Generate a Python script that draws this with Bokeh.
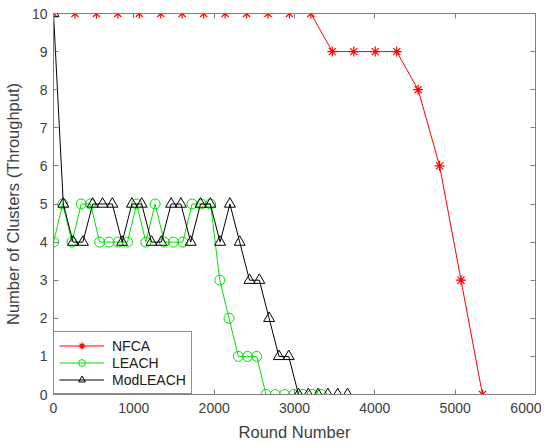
from bokeh.plotting import figure
from bokeh.models import LinearAxis, Range1d, FixedTicker, Legend, LegendItem
from bokeh.embed import file_html
from bokeh.resources import INLINE

nfca_x = [0, 267, 534, 801, 1068, 1335, 1602, 1869, 2136, 2403, 2670, 2937, 3204,
          3471, 3738, 4005, 4272, 4539, 4806, 5073, 5340]
nfca_y = [10, 10, 10, 10, 10, 10, 10, 10, 10, 10, 10, 10, 10, 9, 9, 9, 9, 8, 6, 3, 0]

leach_x = [0, 115, 230, 345, 460, 575, 690, 805, 920, 1035, 1150, 1265, 1380, 1495, 1610,
           1725, 1840, 1955, 2070, 2185, 2300, 2415, 2530, 2645, 2760, 2875, 2990, 3105,
           3220, 3335]
leach_y = [4, 5, 4, 5, 5, 4, 4, 4, 4, 5, 4, 5, 4, 4, 4, 5, 5, 5, 3, 2, 1, 1, 1, 0, 0, 0,
           0, 0, 0, 0]

mod_x = [0, 122, 244, 366, 488, 610, 732, 854, 976, 1098, 1220, 1342, 1464, 1586, 1708,
         1830, 1952, 2074, 2196, 2318, 2440, 2562, 2684, 2806, 2928, 3050, 3172, 3294,
         3416, 3538, 3660]
mod_y = [10, 5, 4, 4, 5, 5, 5, 4, 5, 5, 4, 4, 5, 5, 4, 5, 5, 4, 5, 4, 3, 3, 2, 1, 1, 0, 0,
         0, 0, 0, 0]

x_ticks = [0, 1000, 2000, 3000, 4000, 5000, 6000]
y_ticks = [0, 1, 2, 3, 4, 5, 6, 7, 8, 9, 10]

FONT = "Liberation Sans"
AXC = "#808080"
LBL = "#404040"

p = figure(frame_width=482, frame_height=381, output_backend="svg", toolbar_location=None,
           x_range=Range1d(0, 6000), y_range=Range1d(0, 10),
           min_border_left=45, min_border_right=6, min_border_top=13, min_border_bottom=40)
p.xgrid.visible = False
p.ygrid.visible = False
p.outline_line_color = AXC
p.background_fill_color = "white"
p.border_fill_color = "white"

def style_axis(ax, ticks, show_labels=True):
    ax.ticker = FixedTicker(ticks=ticks)
    ax.minor_tick_line_color = None
    ax.major_tick_in = 5
    ax.major_tick_out = 0
    ax.axis_line_color = AXC
    ax.major_tick_line_color = AXC
    ax.major_label_text_font = FONT
    ax.major_label_text_font_size = "14px"
    ax.major_label_text_color = LBL
    ax.axis_label_text_font = FONT
    ax.axis_label_text_font_size = "16.5px"
    ax.axis_label_text_font_style = "normal"
    ax.axis_label_text_color = LBL
    if not show_labels:
        ax.major_label_text_font_size = "0px"
        ax.major_label_text_alpha = 0

style_axis(p.xaxis[0], x_ticks)
style_axis(p.yaxis[0], y_ticks)
p.xaxis[0].axis_label = "Round Number"
p.yaxis[0].axis_label = "Number of Clusters (Throughput)"
p.xaxis[0].major_label_standoff = 8
p.yaxis[0].major_label_standoff = 6
p.xaxis[0].axis_label_standoff = 7
p.yaxis[0].axis_label_standoff = 7

ra = LinearAxis()
style_axis(ra, y_ticks, show_labels=False)
ra.major_label_standoff = 0
p.add_layout(ra, "right")
ta = LinearAxis()
style_axis(ta, x_ticks, show_labels=False)
ta.major_label_standoff = 0
p.add_layout(ta, "above")

RED = "#ff0000"
GREEN = "#00e000"
BLACK = "#000000"

l1 = p.line(nfca_x, nfca_y, line_color=RED, line_width=1)
m1 = p.scatter(nfca_x, nfca_y, marker="asterisk", size=10, line_color=RED, line_width=1.2)
l2 = p.line(leach_x, leach_y, line_color=GREEN, line_width=1)
m2 = p.scatter(leach_x, leach_y, marker="circle", size=10, line_color=GREEN,
               fill_color=None, line_width=1)
l3 = p.line(mod_x, mod_y, line_color=BLACK, line_width=1)
m3 = p.scatter(mod_x, mod_y, marker="triangle", size=11, line_color=BLACK,
               fill_color=None, line_width=1)

legend = Legend(items=[LegendItem(label="NFCA", renderers=[l1, m1]),
                       LegendItem(label="LEACH", renderers=[l2, m2]),
                       LegendItem(label="ModLEACH", renderers=[l3, m3])],
                location="bottom_left")
legend.margin = 0
legend.padding = 5
legend.spacing = 0
legend.label_height = 17
legend.glyph_height = 17
legend.glyph_width = 45
legend.label_standoff = 8
legend.label_text_font = FONT
legend.label_text_font_size = "14px"
legend.label_text_color = "#202020"
legend.border_line_color = "#202020"
legend.border_line_width = 1
legend.background_fill_alpha = 1
p.add_layout(legend)

open("out.html", "w").write(file_html(p, INLINE))
